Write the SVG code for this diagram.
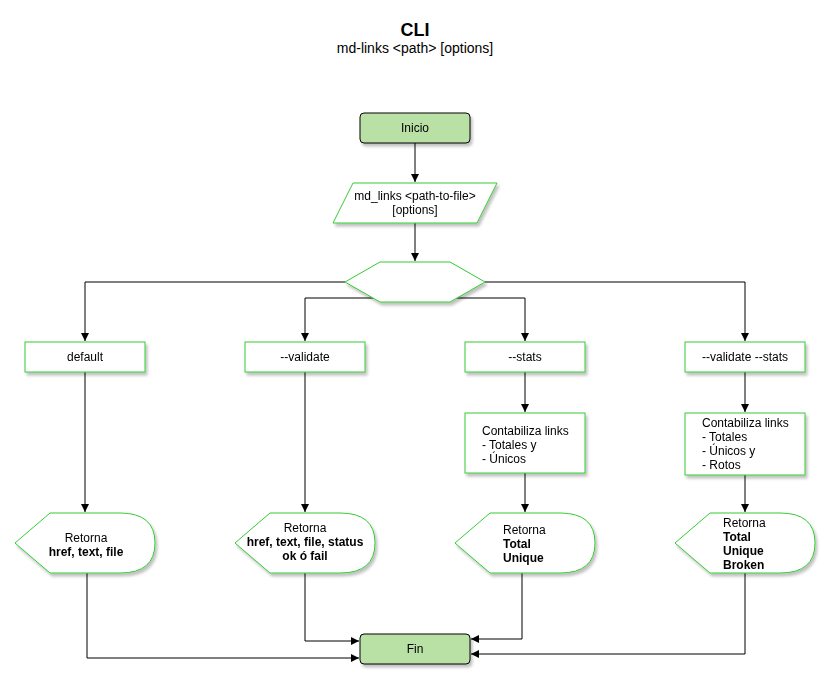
<svg xmlns="http://www.w3.org/2000/svg" width="840" height="700" viewBox="0 0 840 700">
<style>
text{font-family:"Liberation Sans",Arial,sans-serif;font-size:12px;fill:#000}
.c{text-anchor:middle}
.b{font-weight:bold}
.g{fill:#fff;stroke:#33CC33;stroke-width:1}
.t{fill:#B9E0A5;stroke:#000;stroke-width:1}
.e{fill:none;stroke:#000;stroke-width:1}
</style>
<defs>
<filter id="sh" x="-10%" y="-10%" width="130%" height="140%">
<feGaussianBlur in="SourceAlpha" stdDeviation="1.5"/>
<feOffset dx="2" dy="3" result="o"/>
<feComponentTransfer><feFuncA type="linear" slope="0.25"/></feComponentTransfer>
<feMerge><feMergeNode/><feMergeNode in="SourceGraphic"/></feMerge>
</filter>
<marker id="a" viewBox="0 0 10 10" refX="10" refY="5" markerWidth="8" markerHeight="8" markerUnits="userSpaceOnUse" orient="auto">
<path d="M0,0 L10,5 L0,10 Z" fill="#000"/>
</marker>
</defs>
<rect width="840" height="700" fill="#fff"/>
<g id="title">
<text x="415" y="36" class="c b" style="font-size:18px">CLI</text>
<text x="415" y="53" class="c" style="font-size:14px">md-links &lt;path&gt; [options]</text>
</g>
<g id="connectors">
<path class="e" d="M415,143 V182" marker-end="url(#a)"/>
<path class="e" d="M415,223 V261" marker-end="url(#a)"/>
<path class="e" d="M345,282 H85 V341" marker-end="url(#a)"/>
<path class="e" d="M485,282 H745 V341" marker-end="url(#a)"/>
<path class="e" d="M380,298 H305 V341" marker-end="url(#a)"/>
<path class="e" d="M450,298 H525 V341" marker-end="url(#a)"/>
<path class="e" d="M85,372 V512" marker-end="url(#a)"/>
<path class="e" d="M305,372 V512" marker-end="url(#a)"/>
<path class="e" d="M525,372 V412" marker-end="url(#a)"/>
<path class="e" d="M525,473 V512" marker-end="url(#a)"/>
<path class="e" d="M745,372 V412" marker-end="url(#a)"/>
<path class="e" d="M745,475 V512" marker-end="url(#a)"/>
<path class="e" d="M87,573 V658 H359" marker-end="url(#a)"/>
<path class="e" d="M305,573 V641 H359" marker-end="url(#a)"/>
<path class="e" d="M522,573 V639 H471" marker-end="url(#a)"/>
<path class="e" d="M745,573 V654 H471" marker-end="url(#a)"/>
</g>
<g id="inicio" filter="url(#sh)">
<rect class="t" x="360" y="113" width="110" height="30" rx="4"/>
<text x="415" y="132" class="c">Inicio</text>
</g>
<g id="input" filter="url(#sh)">
<path class="g" d="M353,183 H497 L477,223 H333 Z"/>
<text x="415" y="200" class="c">md_links &lt;path-to-file&gt;</text>
<text x="415" y="214" class="c">[options]</text>
</g>
<g id="decision" filter="url(#sh)">
<path class="g" d="M345,282 L380,262 H450 L485,282 L450,302 H380 Z"/>
</g>
<g id="default" filter="url(#sh)">
<rect class="g" x="25" y="342" width="120" height="30"/>
<text x="85" y="361" class="c">default</text>
</g>
<g id="validate" filter="url(#sh)">
<rect class="g" x="245" y="342" width="120" height="30"/>
<text x="305" y="361" class="c">--validate</text>
</g>
<g id="stats" filter="url(#sh)">
<rect class="g" x="465" y="342" width="120" height="30"/>
<text x="525" y="361" class="c">--stats</text>
</g>
<g id="validate-stats" filter="url(#sh)">
<rect class="g" x="685" y="342" width="120" height="30"/>
<text x="745" y="361" class="c">--validate --stats</text>
</g>
<g id="count-stats" filter="url(#sh)">
<rect class="g" x="465" y="413" width="120" height="60"/>
<text x="482" y="435">Contabiliza links</text>
<text x="482" y="449">- Totales y</text>
<text x="482" y="463">- Únicos</text>
</g>
<g id="count-validate-stats" filter="url(#sh)">
<rect class="g" x="685" y="413" width="120" height="62"/>
<text x="702" y="427">Contabiliza links</text>
<text x="702" y="441">- Totales</text>
<text x="702" y="455">- Únicos y</text>
<text x="702" y="469">- Rotos</text>
</g>
<g id="out-default" filter="url(#sh)">
<path class="g" d="M15,543 L50,513 H120 Q155,513 155,543 Q155,573 120,573 H50 Z"/>
<text x="86" y="542" class="c">Retorna</text>
<text x="86" y="556" class="c b">href, text, file</text>
</g>
<g id="out-validate" filter="url(#sh)">
<path class="g" d="M235,543 L270,513 H340 Q375,513 375,543 Q375,573 340,573 H270 Z"/>
<text x="305" y="532" class="c">Retorna</text>
<text x="305" y="546" class="c b">href, text, file, status</text>
<text x="305" y="560" class="c b">ok ó fail</text>
</g>
<g id="out-stats" filter="url(#sh)">
<path class="g" d="M455,543 L490,513 H560 Q595,513 595,543 Q595,573 560,573 H490 Z"/>
<text x="503" y="534">Retorna</text>
<text x="503" y="548" class="b">Total</text>
<text x="503" y="562" class="b">Unique</text>
</g>
<g id="out-validate-stats" filter="url(#sh)">
<path class="g" d="M675,543 L710,513 H780 Q815,513 815,543 Q815,573 780,573 H710 Z"/>
<text x="723" y="527">Retorna</text>
<text x="723" y="541" class="b">Total</text>
<text x="723" y="555" class="b">Unique</text>
<text x="723" y="569" class="b">Broken</text>
</g>
<g id="fin" filter="url(#sh)">
<rect class="t" x="360" y="634" width="110" height="30" rx="4"/>
<text x="415" y="653" class="c">Fin</text>
</g>
</svg>
